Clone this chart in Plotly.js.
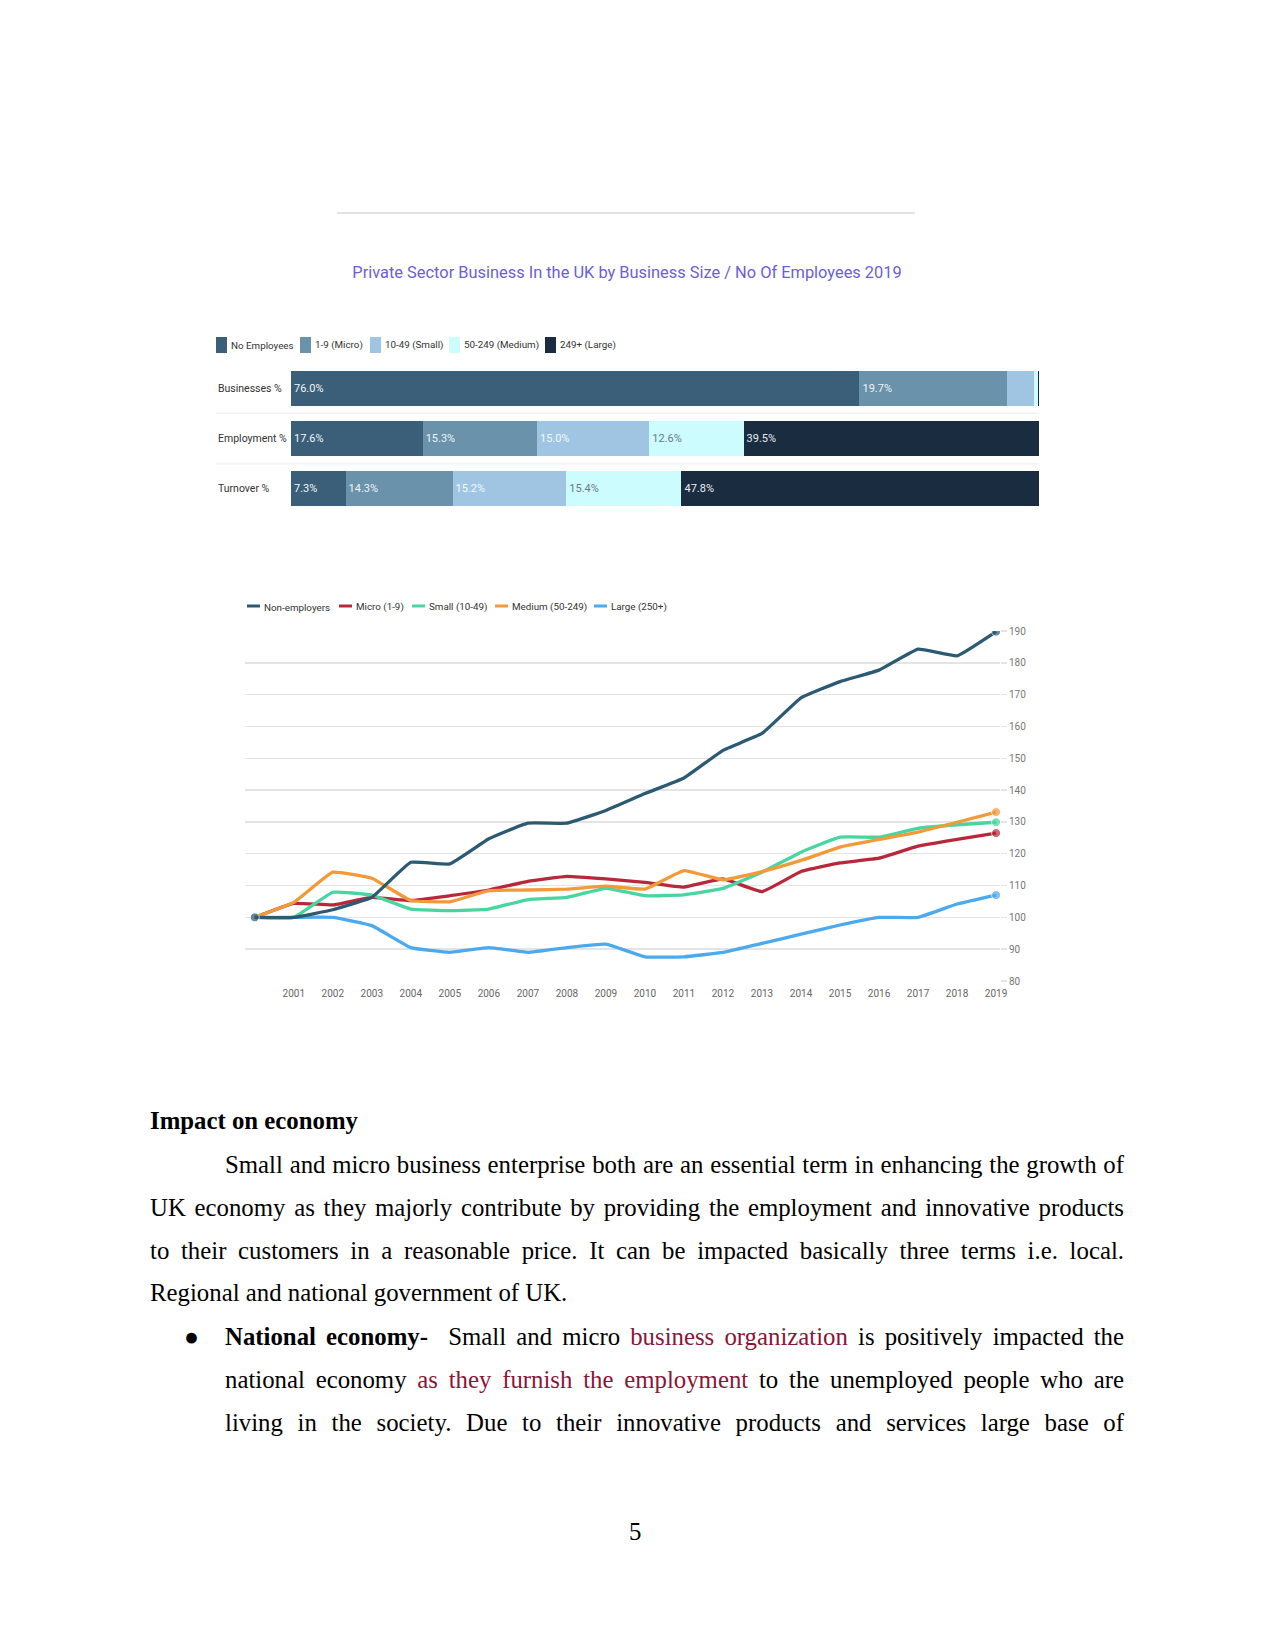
<!DOCTYPE html>
<html>
<head>
<meta charset="utf-8">
<script src="https://cdn.plot.ly/plotly-3.0.1.min.js"></script>
<style>
  body { margin: 0; background: #fff; }
  #page { position: relative; width: 1275px; height: 1650px; background: #fff; overflow: hidden; }
  #rule { position: absolute; left: 337px; top: 212px; width: 578px; height: 2px; background: #e2e2e2; }
  #bars { position: absolute; left: 0; top: 200px; width: 1275px; height: 330px; }
  #lines { position: absolute; left: 0; top: 570px; width: 1275px; height: 450px; }
  .ln { position: absolute; font-family: "Liberation Serif", "Times New Roman", serif; font-size: 24.8px;
        line-height: 43px; height: 43px; color: #000; white-space: nowrap; }
  .j { text-align: justify; text-align-last: justify; white-space: normal; }
  .lk { color: #8a1538; }
</style>
</head>
<body>
<div id="page">
  <div id="rule"></div>
  <div id="bars"></div>
  <div id="lines"></div>

  <div class="ln" style="left:150px; top:1099px;"><b>Impact on economy</b></div>
  <div class="ln j" style="left:225px; top:1143px; width:899px;">Small and micro business enterprise both are an essential term in enhancing the growth of</div>
  <div class="ln j" style="left:150px; top:1186px; width:974px;">UK economy as they majorly contribute by providing the employment and innovative products</div>
  <div class="ln j" style="left:150px; top:1229px; width:974px;">to their customers in a reasonable price. It can be impacted basically three terms i.e. local.</div>
  <div class="ln" style="left:150px; top:1271px;">Regional and national government of UK.</div>
  <div class="ln" style="left:184px; top:1315px;">&#9679;</div>
  <div class="ln j" style="left:225px; top:1315px; width:899px;"><b>National economy-</b>&nbsp; Small and micro <span class="lk">business organization</span> is positively impacted the</div>
  <div class="ln j" style="left:225px; top:1358px; width:899px;">national economy <span class="lk">as they furnish the employment</span> to the unemployed people who are</div>
  <div class="ln j" style="left:225px; top:1401px; width:899px;">living in the society. Due to their innovative products and services large base of</div>
  <div class="ln" style="left:629px; top:1510px;">5</div>
</div>

<script>
// ---- stacked bar data (2019 shares) ----
var rows = ["Businesses %", "Employment %", "Turnover %"];
var sizeNames = ["No Employees", "1-9 (Micro)", "10-49 (Small)", "50-249 (Medium)", "249+ (Large)"];
var noEmployees = [76.0, 17.6, 7.3];
var micro = [19.7, 15.3, 14.3];
var small = [3.6, 15.0, 15.2];
var medium = [0.6, 12.6, 15.4];
var large = [0.1, 39.5, 47.8];

var barColors = ["#3b5f79", "#6a92ab", "#9fc5e2", "#ccfcfd", "#1a2c40"];
var labelColors = ["#f2f5f8", "#eef3f7", "#f4f8fb", "#6b7b86", "#e8edf2"];
var uiFont = "Roboto, sans-serif";

// plot box of the bar chart in page pixels (for legend placement)
var bx0 = 291, bx1 = 1039, by0 = 363, by1 = 514;
function bpx(x) { return (x - bx0) / (bx1 - bx0); }
function bpy(y) { return (by1 - y) / (by1 - by0); }
var barLegendX = [216, 300, 370, 449, 545];

var barSeries = [noEmployees, micro, small, medium, large];
var barTraces = barSeries.map(function (vals, i) {
  return {
    type: "bar",
    orientation: "h",
    name: sizeNames[i],
    y: rows,
    x: vals,
    text: vals.map(function (v) { return v >= 5 ? v.toFixed(1) + "%" : ""; }),
    textposition: "inside",
    insidetextanchor: "start",
    constraintext: "none",
    textfont: { family: uiFont, size: 11, color: labelColors[i] },
    marker: { color: barColors[i], line: { width: 0 } },
    hoverinfo: "none",
    showlegend: false
  };
});

var barAnn = rows.map(function (r) {
  return {
    xref: "paper", yref: "y", x: bpx(216), y: r, xanchor: "left", yanchor: "middle",
    text: r, showarrow: false, font: { family: uiFont, size: 10.5, color: "#333" }
  };
});
var barShapes = [0.5, 1.5].map(function (p) {
  return { type: "line", xref: "paper", yref: "y", x0: bpx(216), x1: 1, y0: p, y1: p,
           line: { color: "#f2f2f2", width: 1.5 } };
});
sizeNames.forEach(function (n, i) {
  var lx = barLegendX[i];
  barShapes.push({ type: "rect", xref: "paper", yref: "paper",
    x0: bpx(lx), x1: bpx(lx + 11), y0: bpy(353), y1: bpy(337),
    fillcolor: barColors[i], line: { width: 0 } });
  barAnn.push({ xref: "paper", yref: "paper", x: bpx(lx + 13), y: bpy(345),
    xanchor: "left", yanchor: "middle", text: n, showarrow: false,
    font: { family: uiFont, size: 9.8, color: "#333" } });
});

var barLayout = {
  width: 1275, height: 330,
  margin: { l: bx0, r: 1275 - bx1, t: by0 - 200, b: 530 - by1 },
  paper_bgcolor: "rgba(0,0,0,0)", plot_bgcolor: "rgba(0,0,0,0)",
  barmode: "stack",
  bargap: 0.3,
  title: {
    text: "Private Sector Business In the UK by Business Size / No Of Employees 2019",
    font: { family: uiFont, size: 16.4, color: "#6a5fd6" },
    x: 0.4918, xanchor: "center", xref: "container",
    y: 0.78, yanchor: "middle", yref: "container"
  },
  xaxis: { range: [0, 100], visible: false, fixedrange: true },
  yaxis: { autorange: "reversed", showticklabels: false, showgrid: false, zeroline: false, fixedrange: true },
  showlegend: false,
  shapes: barShapes,
  annotations: barAnn
};

Plotly.newPlot("bars", barTraces, barLayout, { displayModeBar: false, staticPlot: true });

// ---- index lines (2000 = 100) ----
var years = [2000, 2001, 2002, 2003, 2004, 2005, 2006, 2007, 2008, 2009, 2010,
             2011, 2012, 2013, 2014, 2015, 2016, 2017, 2018, 2019];
var nonEmployers = [100, 100, 102.4, 106.3, 117.3, 116.8, 124.7, 129.6, 129.6, 133.6, 138.9,
                    143.8, 152.5, 157.8, 169.0, 174.1, 177.7, 184.3, 182.2, 189.8];
var microIdx = [100, 104.4, 103.9, 106.3, 105.3, 106.8, 108.6, 111.3, 112.9, 112.1, 111.0,
                109.5, 112.1, 108.1, 114.4, 117.1, 118.6, 122.4, 124.5, 126.5];
var smallIdx = [100, 100, 107.9, 107.0, 102.6, 102.1, 102.6, 105.6, 106.3, 109.1, 106.8,
                107.1, 109.1, 114.2, 120.5, 125.2, 125.2, 128.0, 129.1, 129.9];
var mediumIdx = [100, 104.7, 114.2, 112.3, 105.3, 104.9, 108.4, 108.6, 108.9, 109.8, 108.9,
                 114.7, 111.8, 114.4, 117.9, 122.1, 124.5, 126.8, 129.9, 133.1];
var largeIdx = [100, 100, 100, 97.4, 90.5, 89.0, 90.5, 89.0, 90.5, 91.6, 87.6,
                87.6, 89.0, 91.8, 94.7, 97.6, 100, 100, 104.2, 107.0];
var lineNames = ["Non-employers", "Micro (1-9)", "Small (10-49)", "Medium (50-249)", "Large (250+)"];
var lineColors = ["#2c5a72", "#b8283a", "#48d6a0", "#f39a38", "#4ba9ee"];
var lineSeries = [nonEmployers, microIdx, smallIdx, mediumIdx, largeIdx];

// plot box of the line chart in page pixels
var lx0 = 245, lx1 = 1000, ly0 = 631, ly1 = 981;
function lpx(x) { return (x - lx0) / (lx1 - lx0); }
function lpy(y) { return (ly1 - y) / (ly1 - ly0); }
var lineLegendX = [247, 339, 412, 495, 594];

var lineTraces = lineSeries.map(function (vals, i) {
  return {
    type: "scatter",
    mode: "lines+markers",
    name: lineNames[i],
    x: years,
    y: vals,
    line: { color: lineColors[i], width: 3.3, shape: "spline", smoothing: 0.3 },
    marker: {
      color: lineColors[i],
      size: years.map(function (y, k) { return (k === years.length - 1 || (k === 0 && i === 0)) ? 9 : 0; })
    },
    hoverinfo: "none",
    showlegend: false
  };
});
// draw non-employers on top
lineTraces.push(lineTraces.shift());

var lineShapes = [], lineAnn = [];
lineNames.forEach(function (n, i) {
  var lx = lineLegendX[i];
  lineShapes.push({ type: "line", xref: "paper", yref: "paper",
    x0: lpx(lx), x1: lpx(lx + 13), y0: lpy(606), y1: lpy(606),
    line: { color: lineColors[i], width: 3 } });
  lineAnn.push({ xref: "paper", yref: "paper", x: lpx(lx + 15), y: lpy(607),
    xanchor: "left", yanchor: "middle", text: n, showarrow: false,
    font: { family: uiFont, size: 9.8, color: "#333" } });
});

var lineLayout = {
  width: 1275, height: 450,
  margin: { l: lx0, r: 1275 - lx1, t: ly0 - 570, b: 1020 - ly1 },
  paper_bgcolor: "rgba(0,0,0,0)", plot_bgcolor: "rgba(0,0,0,0)",
  font: { family: uiFont },
  xaxis: {
    range: [1999.75, 2019.1],
    tickvals: years.slice(1),
    ticktext: years.slice(1).map(String),
    showgrid: false, zeroline: false, showline: false, ticks: "",
    ticklabelstandoff: 5,
    tickfont: { size: 10, color: "#666" }, fixedrange: true
  },
  yaxis: {
    side: "right",
    range: [80, 190],
    dtick: 10,
    tick0: 80,
    showgrid: true, gridcolor: "#e4e4e4", gridwidth: 1.5,
    zeroline: false, showline: false,
    ticks: "outside", ticklen: 6, tickcolor: "#e4e4e4", tickwidth: 1.5,
    tickfont: { size: 10, color: "#777" }, fixedrange: true
  },
  showlegend: false,
  shapes: lineShapes,
  annotations: lineAnn
};

Plotly.newPlot("lines", lineTraces, lineLayout, { displayModeBar: false, staticPlot: true });
</script>
</body>
</html>
